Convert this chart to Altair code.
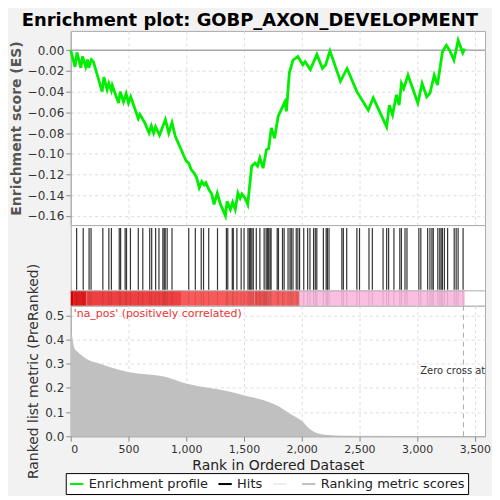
import pandas as pd
import altair as alt

FONT = "DejaVu Sans"
X_MAX = 3588
ZERO_CROSS = 3401

# ranks of the gene-set members (hits)
hit_ranks = [51, 108, 159, 176, 278, 330, 352, 420, 432, 471, 483, 517, 585, 624, 684, 701,
             735, 764, 798, 809, 818, 835, 877, 1022, 1079, 1130, 1150, 1195, 1271, 1348,
             1360, 1399, 1408, 1439, 1476, 1501, 1535, 1547, 1558, 1569, 1581, 1607, 1638,
             1675, 1692, 1703, 1714, 1726, 1735, 1788, 1799, 1834, 1848, 1882, 1899, 1910,
             1925, 1953, 1967, 1982, 2018, 2052, 2072, 2103, 2118, 2131, 2188, 2212, 2223,
             2237, 2348, 2361, 2390, 2478, 2501, 2583, 2612, 2705, 2736, 2753, 2799, 2850,
             2864, 2895, 2912, 3015, 3032, 3091, 3111, 3128, 3140, 3179, 3196, 3208, 3219,
             3236, 3264, 3321, 3338, 3355, 3398]

# running enrichment score
es_rank = [0, 37, 54, 88, 102, 130, 145, 156, 179, 196, 272, 287, 315, 330, 352, 360, 414,
           429, 457, 480, 500, 519, 585, 599, 641, 678, 698, 718, 735, 769, 820, 849, 877,
           905, 999, 1022, 1042, 1070, 1090, 1113, 1135, 1155, 1170, 1198, 1221, 1241, 1269,
           1297, 1340, 1354, 1382, 1402, 1425, 1448, 1467, 1482, 1510, 1533, 1567, 1595,
           1618, 1638, 1666, 1695, 1714, 1737, 1765, 1796, 1854, 1868, 1893, 1925, 1967,
           2010, 2030, 2075, 2132, 2180, 2208, 2245, 2336, 2393, 2478, 2577, 2620, 2719,
           2736, 2759, 2787, 2821, 2844, 2864, 2884, 2921, 3006, 3043, 3083, 3111, 3148,
           3176, 3219, 3253, 3281, 3319, 3355, 3395, 3412]
es_val = [0.0, -0.016, -0.002, -0.017, -0.006, -0.016, -0.009, -0.017, -0.009, -0.011,
          -0.040, -0.026, -0.038, -0.032, -0.039, -0.034, -0.051, -0.040, -0.050, -0.042,
          -0.051, -0.045, -0.066, -0.062, -0.070, -0.080, -0.073, -0.080, -0.074, -0.082,
          -0.067, -0.080, -0.070, -0.083, -0.107, -0.109, -0.115, -0.119, -0.123, -0.133,
          -0.127, -0.130, -0.128, -0.135, -0.139, -0.149, -0.138, -0.149, -0.160, -0.146,
          -0.154, -0.147, -0.154, -0.138, -0.143, -0.139, -0.143, -0.149, -0.112, -0.109,
          -0.112, -0.104, -0.114, -0.096, -0.095, -0.075, -0.085, -0.064, -0.050, -0.059,
          -0.022, -0.0096, -0.006, -0.014, -0.011, -0.0186, -0.004, -0.0176, -0.014,
          -0.0006, -0.030, -0.0176, -0.040, -0.058, -0.046, -0.070, -0.074, -0.053,
          -0.0625, -0.043, -0.053, -0.032, -0.037, -0.024, -0.051, -0.032, -0.045,
          -0.0416, -0.024, -0.0337, -0.0015, 0.0048, 0.0, -0.0096, 0.0096, -0.0025, 0.0016]

# ranked list metric
metric_rank = [0, 6, 34, 62, 134, 247, 497, 815, 999, 1382, 1496, 1666, 1808, 1893, 2007,
               2063, 2120, 2205, 2375, 3401]
metric_val = [0.43, 0.424, 0.362, 0.349, 0.321, 0.301, 0.266, 0.246, 0.218, 0.184, 0.170,
              0.150, 0.122, 0.095, 0.061, 0.033, 0.015, 0.006, 0.002, 0.0]

# colour bar under the hits
bar_start = [0, 20, 135, 955, 1590, 1700, 1980]
bar_end = [20, 135, 955, 1590, 1700, 1980, 3412]
bar_color = ["#d40000", "#de1c1c", "#ee4040", "#f85a5a", "#e85050", "#f86060", "#fbbde0"]

legend_items = ["Enrichment profile", "Hits", " ", "Ranking metric scores"]
legend_colors = ["#00ee00", "#000000", "#eeeeee", "#c0c0c0"]

W = 416
ticks_x = [0, 500, 1000, 1500, 2000, 2500, 3000, 3500]
xscale = alt.Scale(domain=[0, X_MAX], nice=False)

es_df = pd.DataFrame({"rank": es_rank, "es": es_val, "series": "Enrichment profile"})
hits_df = pd.DataFrame({"rank": hit_ranks})
bar_df = pd.DataFrame({"start": bar_start, "end": bar_end, "col": bar_color})
metric_df = pd.DataFrame({"rank": metric_rank, "metric": metric_val})

hidden_x = alt.Axis(labels=False, ticks=False, domain=False, title=None, values=ticks_x,
                    grid=True, gridDash=[3, 3], gridColor="#dddddd")
es_axis = alt.Axis(values=[-0.16, -0.14, -0.12, -0.10, -0.08, -0.06, -0.04, -0.02, 0.0],
                   format=".2f", labelOverlap=False, labelFontSize=12,
                   title="Enrichment score (ES)", titleFontWeight="bold",
                   titleFontSize=14, titleColor="#555555", grid=True,
                   gridDash=[3, 3], gridColor="#dddddd")
es_scale = alt.Scale(domain=[-0.169, 0.0187], nice=False)

zero_line = alt.Chart(pd.DataFrame({"y": [0.0]})).mark_rule(
    color="#aaaaaa", strokeWidth=1.5).encode(
    y=alt.Y("y:Q", scale=es_scale, axis=es_axis))
es_line = alt.Chart(es_df).mark_line(strokeWidth=2.8).encode(
    x=alt.X("rank:Q", scale=xscale, axis=hidden_x),
    y=alt.Y("es:Q", scale=es_scale, axis=es_axis),
    color=alt.Color("series:N", scale=alt.Scale(domain=legend_items, range=legend_colors),
                    legend=alt.Legend(title=None, orient="none", legendX=-5, legendY=444,
                                      direction="horizontal", symbolType="stroke",
                                      symbolStrokeWidth=2, labelFontSize=13,
                                      labelFont=FONT, labelColor="#222222",
                                      strokeColor="black", padding=3, columnPadding=6,
                                      symbolSize=180, fillColor="white")),
)
top = alt.layer(zero_line, es_line).properties(width=W, height=195)

hit_lines = alt.Chart(hits_df).mark_rule(color="black", opacity=0.8, strokeWidth=1.2).encode(
    x=alt.X("rank:Q", scale=xscale, axis=None), y=alt.value(3), y2=alt.value(65))
bar = alt.Chart(bar_df).mark_rect().encode(
    x=alt.X("start:Q", scale=xscale, axis=None), x2="end:Q",
    y=alt.value(66), y2=alt.value(81), color=alt.Color("col:N", scale=None))
hit_shade = alt.Chart(hits_df).mark_rule(color="black", opacity=0.12).encode(
    x=alt.X("rank:Q", scale=xscale, axis=None), y=alt.value(66), y2=alt.value(81))
sep = alt.Chart(hits_df.head(1)).mark_rule(color="#aaaaaa").encode(
    x=alt.value(0), x2=alt.value(W), y=alt.value(66))
middle = alt.layer(hit_lines, bar, hit_shade, sep).properties(width=W, height=81)

area = alt.Chart(metric_df).mark_area(color="#c0c0c0", interpolate="monotone").encode(
    x=alt.X("rank:Q", scale=xscale,
            axis=alt.Axis(values=ticks_x, format=",d", title="Rank in Ordered Dataset",
                          labelFontSize=11, titleFontSize=14, titleFontWeight="normal",
                          titleColor="#222222", titlePadding=4, grid=True,
                          gridDash=[3, 3], gridColor="#dddddd")),
    y=alt.Y("metric:Q", scale=alt.Scale(domain=[0, 0.54], nice=False),
            axis=alt.Axis(values=[0, 0.1, 0.2, 0.3, 0.4, 0.5], format=".1f",
                          labelOverlap=False, labelFontSize=12,
                          title="Ranked list metric (PreRanked)", titleFontSize=14,
                          titleFontWeight="normal", titleColor="#333333", grid=True,
                          gridDash=[3, 3], gridColor="#dddddd")),
)
zc = alt.Chart(pd.DataFrame({"rank": [ZERO_CROSS]})).mark_rule(
    color="#aaaaaa", strokeDash=[5, 4]).encode(x="rank:Q")
pos_label = alt.Chart(pd.DataFrame({"t": ["'na_pos' (positively correlated)"]})).mark_text(
    align="left", baseline="middle", color="#ee3333", fontSize=11, font=FONT).encode(
    x=alt.value(3), y=alt.value(8), text="t:N")
zc_label = alt.Chart(pd.DataFrame({"t": ["Zero cross at"]})).mark_text(
    align="left", baseline="middle", color="#333333", fontSize=10, font=FONT).encode(
    x=alt.value(351), y=alt.value(66), text="t:N")
bottom = alt.layer(area, zc, pos_label, zc_label).properties(width=W, height=131)

chart = alt.vconcat(top, middle, bottom, spacing=0, bounds="flush").properties(
    title=alt.TitleParams("Enrichment plot: GOBP_AXON_DEVELOPMENT", fontSize=18,
                          fontWeight="bold", font=FONT, anchor="middle", offset=0),
    padding={"left": 0, "top": 3, "right": 0, "bottom": 0},
    background="#f2f2f2",
).configure_view(fill="white", stroke="#aaaaaa").configure_axis(
    labelFont=FONT, titleFont=FONT, labelColor="#333333",
    tickColor="#888888", domainColor="#aaaaaa")

chart.save("out.html", embed_options={"renderer": "svg", "actions": False})
